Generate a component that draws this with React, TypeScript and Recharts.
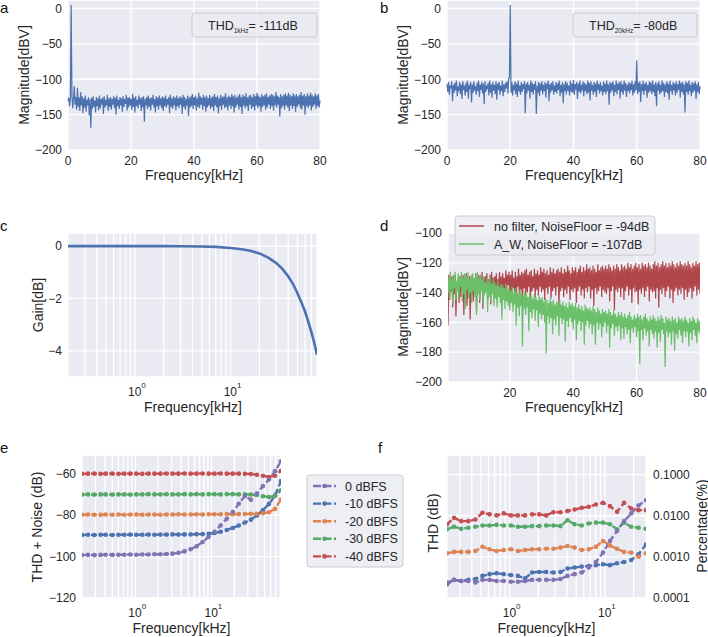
import { CartesianGrid, Line, LineChart, XAxis, YAxis } from 'recharts'

const FONT = '"Liberation Sans", Arial, sans-serif'
const INK = '#262626'
const PANEL_BG = '#EAEAF2'
const BLUE = '#4C72B0'

// FFT bin spacing of the measured spectra, kHz
const BIN_KHZ = 0.25

// (a) 1 kHz tone, dBV per bin from 0 to 80 kHz
const spec1k = [
  -131, -126, -138, -128, 5, -124, -141, -127, -110, -136, -125, -143, -112, -139, -126, -145, -118, -137, -124, -148,
  -127, -140, -123, -146, -129, -137, -125, -151, -128, -169, -126, -142, -124, -139, -130, -147, -125, -138, -127, -144,
  -123, -141, -128, -136, -126, -149, -124, -140, -129, -137, -122, -145, -127, -139, -125, -143, -128, -136, -124, -141,
  -126, -150, -123, -138, -129, -142, -125, -137, -127, -146, -124, -139, -128, -135, -122, -144, -126, -140, -125, -137,
  -128, -143, -121, -139, -126, -147, -124, -138, -129, -141, -123, -136, -127, -145, -125, -140, -124, -160, -128, -137,
  -125, -142, -123, -139, -127, -144, -126, -136, -122, -140, -128, -147, -124, -138, -126, -143, -123, -137, -127, -141,
  -124, -145, -126, -138, -123, -140, -128, -136, -125, -148, -122, -139, -127, -142, -124, -137, -126, -144, -123, -138,
  -127, -141, -124, -136, -126, -149, -122, -139, -125, -143, -128, -137, -123, -152, -126, -140, -124, -138, -121, -142,
  -125, -137, -123, -144, -127, -139, -119, -141, -124, -136, -126, -143, -122, -138, -125, -146, -123, -140, -127, -137,
  -122, -142, -126, -139, -124, -145, -121, -137, -125, -140, -123, -148, -127, -138, -122, -143, -125, -136, -124, -141,
  -120, -139, -126, -144, -123, -137, -125, -142, -121, -138, -124, -147, -122, -140, -126, -136, -123, -143, -121, -139,
  -125, -149, -122, -137, -124, -141, -120, -138, -126, -145, -123, -136, -122, -142, -125, -139, -121, -144, -124, -137,
  -119, -141, -123, -138, -125, -146, -121, -139, -124, -137, -122, -143, -120, -140, -125, -136, -123, -142, -121, -138,
  -122, -144, -124, -137, -118, -140, -123, -136, -125, -153, -121, -141, -124, -138, -122, -143, -120, -137, -123, -140,
  -119, -145, -122, -137, -124, -142, -120, -138, -123, -146, -121, -139, -124, -136, -122, -141, -118, -143, -123, -137,
  -121, -150, -124, -138, -120, -141, -123, -137, -119, -144, -122, -139, -124, -136, -120, -142, -123, -138, -121, -140,
  -130,
]

// (b) 20 kHz tone
const spec20k = [
  -107, -118, -104, -122, -109, -113, -103, -131, -108, -119, -105, -116, -102, -124, -110, -117, -104, -121, -107, -128,
  -103, -115, -109, -123, -105, -118, -102, -127, -108, -114, -104, -133, -107, -119, -103, -116, -110, -122, -105, -117,
  -102, -125, -108, -115, -104, -120, -106, -135, -103, -118, -109, -114, -105, -123, -102, -119, -107, -126, -104, -116,
  -108, -121, -103, -129, -106, -115, -104, -122, -109, -117, -102, -124, -107, -118, -105, -113, -103, -120, -99, -98,
  5, -119, -104, -123, -108, -116, -103, -121, -106, -125, -102, -117, -109, -122, -104, -118, -107, -114, -103, -148,
  -106, -120, -104, -116, -108, -127, -102, -118, -105, -122, -107, -115, -103, -149, -109, -119, -104, -124, -106, -116,
  -103, -121, -108, -117, -104, -126, -106, -114, -102, -131, -107, -119, -105, -116, -103, -122, -109, -118, -104, -120,
  -106, -115, -102, -124, -108, -119, -104, -134, -107, -117, -103, -121, -105, -116, -109, -123, -102, -118, -106, -119,
  -101, -122, -107, -115, -104, -128, -106, -118, -102, -120, -108, -116, -103, -124, -105, -117, -107, -121, -102, -119,
  -105, -130, -103, -116, -108, -122, -104, -118, -106, -125, -102, -115, -107, -120, -104, -117, -109, -123, -103, -118,
  -106, -121, -102, -117, -107, -136, -104, -119, -105, -116, -103, -124, -108, -118, -102, -121, -106, -115, -104, -127,
  -103, -118, -107, -122, -102, -116, -105, -125, -108, -117, -104, -120, -106, -115, -102, -123, -107, -119, -103, -116,
  -73, -121, -105, -118, -103, -132, -107, -117, -102, -122, -106, -116, -104, -126, -108, -119, -103, -117, -105, -121,
  -102, -118, -107, -124, -104, -138, -106, -116, -103, -121, -108, -119, -102, -117, -105, -125, -107, -118, -103, -120,
  -106, -129, -102, -117, -108, -122, -104, -116, -106, -123, -103, -119, -107, -115, -102, -126, -105, -118, -104, -121,
  -107, -147, -103, -118, -105, -122, -102, -117, -108, -124, -104, -119, -106, -116, -103, -128, -107, -118, -104, -121,
  -110,
]

// (d) idle noise, bins from 0.25 to 80 kHz
const noFilter = [
  -131, -162, -128, -145, -133, -139, -129, -150, -132, -141, -128, -156, -134, -138, -130, -147, -129, -143, -133, -137,
  -128, -155, -131, -140, -127, -149, -134, -136, -129, -158, -131, -142, -128, -146, -133, -139, -127, -152, -130, -137,
  -128, -147, -132, -138, -126, -151, -130, -141, -129, -137, -127, -145, -131, -139, -128, -148, -126, -136, -130, -143,
  -129, -138, -127, -145, -131, -136, -126, -141, -129, -148, -127, -137, -130, -143, -125, -139, -128, -135, -126, -142,
  -128, -143, -125, -137, -130, -140, -126, -146, -129, -136, -124, -141, -128, -138, -126, -149, -127, -137, -125, -142,
  -124, -140, -128, -136, -126, -148, -125, -139, -129, -137, -124, -143, -127, -138, -125, -142, -128, -136, -123, -140,
  -126, -138, -124, -145, -127, -137, -125, -141, -128, -136, -123, -144, -126, -139, -124, -137, -127, -142, -125, -136,
  -124, -150, -126, -139, -123, -137, -127, -143, -124, -138, -126, -141, -122, -136, -125, -145, -127, -138, -123, -140,
  -125, -137, -123, -147, -126, -139, -124, -136, -122, -142, -126, -138, -123, -144, -125, -137, -121, -140, -124, -136,
  -123, -144, -125, -138, -122, -149, -124, -137, -126, -141, -121, -139, -125, -136, -123, -143, -122, -138, -124, -140,
  -122, -141, -124, -137, -121, -146, -123, -139, -125, -136, -122, -152, -124, -138, -121, -140, -123, -137, -125, -143,
  -121, -137, -123, -145, -122, -139, -124, -136, -120, -142, -123, -138, -121, -147, -124, -137, -122, -140, -120, -139,
  -123, -148, -121, -138, -124, -141, -120, -137, -122, -143, -121, -139, -123, -136, -120, -146, -122, -138, -124, -140,
  -121, -139, -119, -144, -122, -137, -120, -150, -123, -138, -121, -141, -119, -137, -122, -143, -120, -139, -123, -136,
  -120, -144, -122, -138, -119, -147, -121, -139, -123, -137, -120, -142, -122, -138, -119, -141, -121, -137, -122, -145,
  -120, -138, -122, -143, -119, -140, -121, -137, -123, -144, -120, -139, -122, -136, -119, -142, -121, -138, -120, -141,
]
const aWeighted = [
  -127, -140, -130, -144, -126, -138, -131, -148, -128, -137, -126, -145, -132, -139, -127, -143, -129, -136, -126, -146,
  -130, -141, -127, -151, -129, -138, -126, -144, -131, -140, -128, -147, -127, -139, -130, -143, -128, -155, -126, -141,
  -130, -145, -128, -139, -131, -148, -129, -142, -133, -140, -130, -153, -132, -143, -129, -146, -134, -141, -131, -149,
  -133, -144, -135, -150, -132, -143, -136, -147, -134, -158, -135, -145, -137, -151, -134, -146, -138, -149, -136, -152,
  -139, -147, -136, -153, -140, -148, -137, -162, -139, -150, -141, -156, -138, -149, -140, -176, -142, -151, -139, -155,
  -141, -150, -143, -166, -140, -153, -142, -157, -144, -151, -141, -159, -143, -152, -145, -163, -142, -154, -144, -158,
  -143, -155, -146, -160, -144, -181, -145, -156, -147, -161, -144, -157, -146, -168, -145, -158, -148, -162, -146, -156,
  -147, -169, -145, -157, -148, -161, -146, -158, -149, -173, -147, -159, -150, -163, -146, -157, -148, -160, -147, -165,
  -149, -158, -147, -172, -150, -161, -148, -159, -151, -166, -149, -160, -152, -175, -148, -162, -150, -159, -151, -164,
  -150, -161, -152, -168, -149, -162, -151, -175, -153, -160, -150, -165, -152, -161, -154, -170, -151, -163, -153, -160,
  -152, -167, -154, -162, -151, -177, -153, -164, -155, -161, -152, -169, -154, -163, -156, -166, -153, -162, -155, -172,
  -153, -164, -156, -171, -154, -163, -157, -168, -155, -165, -153, -174, -156, -164, -158, -167, -155, -163, -157, -170,
  -154, -166, -156, -188, -155, -165, -158, -172, -156, -164, -154, -169, -157, -166, -159, -176, -156, -165, -158, -168,
  -155, -171, -157, -166, -159, -177, -156, -167, -158, -173, -155, -165, -157, -168, -160, -190, -156, -166, -158, -170,
  -157, -167, -159, -175, -156, -166, -158, -179, -157, -168, -160, -171, -156, -165, -158, -169, -157, -174, -159, -166,
  -156, -170, -158, -166, -160, -176, -157, -167, -159, -172, -156, -165, -158, -169, -160, -174, -157, -166, -159, -168,
]
const noiseLabels = ['no filter, NoiseFloor = -94dB', 'A_W, NoiseFloor = -107dB']

// (c) filter response
const gainFreq = [0.2, 0.5, 1, 2, 3, 5, 7, 10, 13, 16, 20, 25, 30, 35, 40, 45, 50, 55, 60, 65, 70, 75, 80]
const gainDb = [0, 0, 0, 0, -0.005, -0.015, -0.03, -0.07, -0.12, -0.18, -0.28, -0.45, -0.65, -0.88, -1.15, -1.45, -1.8, -2.15, -2.5, -2.9, -3.3, -3.7, -4.15]

// (e) THD+N vs frequency
const eFreq = [0.2, 0.24, 0.29, 0.35, 0.41, 0.5, 0.6, 0.72, 0.86, 1.03, 1.24, 1.49, 1.78, 2.14, 2.57, 3.08, 3.7, 4.44, 5.32, 6.39, 7.67, 9.2, 11, 13.2, 15.9, 19.1, 22.9, 27.5, 33, 39.6, 47.5, 57, 68.4, 82]
const thdn0 = [-99.3, -99.2, -99.3, -99.2, -99.1, -99.2, -99.1, -99.1, -99.0, -99.1, -99.0, -99.0, -98.9, -98.9, -98.8, -98.6, -98.2, -97.5, -96.5, -95.0, -93.0, -90.5, -88.0, -85.0, -81.8, -78.5, -74.5, -70.8, -72.6, -69.6, -66.0, -62.8, -58.8, -54.0]
const thdn10 = [-89.6, -89.5, -89.6, -89.5, -89.5, -89.6, -89.5, -89.5, -89.4, -89.5, -89.5, -89.4, -89.5, -89.4, -89.4, -89.3, -89.4, -89.3, -89.3, -89.2, -89.2, -89.0, -88.6, -88.0, -87.2, -86.2, -85.0, -83.6, -82.2, -80.2, -77.6, -74.6, -70.6, -63.6]
const thdn20 = [-79.8, -79.7, -79.8, -79.8, -79.7, -79.8, -79.7, -79.8, -79.7, -79.7, -79.8, -79.7, -79.7, -79.8, -79.7, -79.7, -79.6, -79.7, -79.7, -79.6, -79.7, -79.6, -79.6, -79.6, -79.5, -79.6, -79.5, -79.5, -79.4, -79.4, -79.1, -78.6, -77.0, -72.5]
const thdn30 = [-70.1, -70.0, -70.1, -70.0, -70.0, -70.1, -70.0, -70.0, -70.1, -70.0, -70.0, -69.9, -70.0, -70.0, -69.9, -70.0, -70.0, -69.9, -70.0, -69.9, -70.0, -69.9, -69.9, -70.0, -69.9, -69.9, -70.0, -70.0, -70.1, -70.3, -70.9, -71.3, -70.8, -68.0]
const thdn40 = [-60.1, -60.0, -60.0, -60.1, -60.0, -60.0, -60.1, -60.0, -60.0, -60.0, -60.1, -60.0, -60.0, -60.0, -59.9, -60.0, -60.0, -59.9, -60.0, -60.0, -59.9, -60.0, -60.0, -59.9, -60.0, -60.0, -60.0, -60.1, -60.2, -60.5, -61.0, -61.6, -61.0, -58.6]

// (f) THD in percent
const fFreq = [0.22, 0.261, 0.31, 0.368, 0.437, 0.518, 0.615, 0.73, 0.867, 1.03, 1.22, 1.45, 1.72, 2.04, 2.42, 2.88, 3.41, 4.05, 4.81, 5.71, 6.78, 8.04, 9.55, 11.3, 13.4, 15.9, 18.9, 22.5, 27]
const thd0 = [0.000238, 0.000276, 0.00026, 0.00026, 0.000238, 0.000276, 0.000276, 0.00026, 0.00026, 0.000249, 0.000249, 0.00026, 0.000276, 0.000276, 0.000276, 0.000276, 0.00029, 0.000345, 0.00038, 0.000416, 0.00055, 0.00075, 0.00127, 0.00243, 0.00425, 0.0074, 0.0114, 0.0178, 0.0239]
const thd10 = [0.000217, 0.000276, 0.00026, 0.000276, 0.00029, 0.000345, 0.00038, 0.0004, 0.00038, 0.00036, 0.000345, 0.0003, 0.000416, 0.00043, 0.00043, 0.000416, 0.00043, 0.00052, 0.00055, 0.00058, 0.0006, 0.00063, 0.00066, 0.00063, 0.0007, 0.00075, 0.00084, 0.00116, 0.002]
const thd20 = [0.00122, 0.00132, 0.00132, 0.00132, 0.00139, 0.00177, 0.00153, 0.00139, 0.00147, 0.00153, 0.00139, 0.00147, 0.00153, 0.00153, 0.00158, 0.00158, 0.00168, 0.00184, 0.00168, 0.00147, 0.00153, 0.00177, 0.00243, 0.0019, 0.00158, 0.00132, 0.00127, 0.00101, 0.00122]
const thd30 = [0.0047, 0.0054, 0.0048, 0.0051, 0.0054, 0.0058, 0.0058, 0.006, 0.0058, 0.0058, 0.0054, 0.0054, 0.0056, 0.0056, 0.0058, 0.0058, 0.0056, 0.0078, 0.0062, 0.0058, 0.0065, 0.0068, 0.0068, 0.0062, 0.0047, 0.0068, 0.0054, 0.0051, 0.0048]
const thd40 = [0.0062, 0.0089, 0.0074, 0.0074, 0.0081, 0.0118, 0.0108, 0.0102, 0.0114, 0.0102, 0.0102, 0.0102, 0.0108, 0.0108, 0.0102, 0.0122, 0.0122, 0.013, 0.0142, 0.0156, 0.0165, 0.0188, 0.0206, 0.0171, 0.0125, 0.0206, 0.015, 0.0137, 0.0137]

const levelNames = ['0 dBFS', '-10 dBFS', '-20 dBFS', '-30 dBFS', '-40 dBFS']
const levelKeys = ['l0', 'l10', 'l20', 'l30', 'l40']
const levelColors = ['#8172B3', '#4C72B0', '#DD8452', '#55A868', '#C44E52']

const dataA = spec1k.map((v, i) => ({ f: i * BIN_KHZ, v }))
const dataB = spec20k.map((v, i) => ({ f: i * BIN_KHZ, v }))
const dataD = noFilter.map((v, i) => ({ f: (i + 1) * BIN_KHZ, raw: v, aw: aWeighted[i] }))
const dataC = gainFreq.map((f, i) => ({ f, g: gainDb[i] }))
const dataE = eFreq.map((f, i) => ({ f, l0: thdn0[i], l10: thdn10[i], l20: thdn20[i], l30: thdn30[i], l40: thdn40[i] }))
const dataF = fFreq.map((f, i) => ({ f, l0: thd0[i], l10: thd10[i], l20: thd20[i], l30: thd30[i], l40: thd40[i] }))

const logTicksWide = [0.2, 0.3, 0.4, 0.5, 0.6, 0.7, 0.8, 0.9, 1, 2, 3, 4, 5, 6, 7, 8, 9, 10, 20, 30, 40, 50, 60, 70, 80]
const logTicksF = [0.3, 0.4, 0.5, 0.6, 0.7, 0.8, 0.9, 1, 2, 3, 4, 5, 6, 7, 8, 9, 10, 20]

const minus = (v: number) => (v < 0 ? '\u2212' + Math.abs(v) : String(v))
const tickStyle = { fontSize: 12, fill: INK, fontFamily: FONT }
const axisBase = { tickLine: false, axisLine: false, tickSize: 0, tickMargin: 6, interval: 0 as const }

function LogTick(props: any) {
  const { x, y, payload } = props
  const e = Math.log10(payload.value)
  if (Math.abs(e - Math.round(e)) > 1e-6) return <g />
  return (
    <text x={x + 2} y={y + 13} textAnchor="middle" fontSize={12} fill={INK} fontFamily={FONT}>
      10<tspan dy={-8.5} fontSize={8}>{Math.round(e)}</tspan>
    </text>
  )
}

type Box = { x: number; y: number; w: number; h: number }

function Frame({ box, data, right, children }: { box: Box; data: any[]; right?: boolean; children: any }) {
  const leftW = right ? 0 : 50
  const rightW = right ? 60 : 0
  return (
    <div style={{ position: 'absolute', left: box.x - 10 - leftW, top: box.y - 10 }}>
      <LineChart
        width={box.w + leftW + rightW + 20}
        height={box.h + 50}
        data={data}
        margin={{ top: 10, right: 10, bottom: 10, left: 10 }}
      >
        {children}
      </LineChart>
    </div>
  )
}

function grid() {
  return <CartesianGrid fill={PANEL_BG} fillOpacity={1} stroke="#ffffff" strokeWidth={1.3} />
}

function RotLabel({ x, y, text }: { x: number; y: number; text: string }) {
  return (
    <text transform={`translate(${x},${y}) rotate(-90)`} textAnchor="middle" fontSize={14} fill={INK} fontFamily={FONT}>
      {text}
    </text>
  )
}

function Overlay() {
  const t = { fontFamily: FONT, fill: INK }
  const letter = { fontFamily: FONT, fill: '#111', fontSize: 15 }
  return (
    <svg width={708} height={637} style={{ position: 'absolute', left: 0, top: 0, pointerEvents: 'none' }}>
      <text x={0} y={12.5} {...letter}>a</text>
      <text x={380} y={12.5} {...letter}>b</text>
      <text x={0} y={231} {...letter}>c</text>
      <text x={380} y={231} {...letter}>d</text>
      <text x={0} y={453} {...letter}>e</text>
      <text x={378} y={453} {...letter}>f</text>

      <RotLabel x={28.5} y={75} text="Magnitude[dBV]" />
      <RotLabel x={407.5} y={75} text="Magnitude[dBV]" />
      <RotLabel x={42.5} y={305} text="Gain[dB]" />
      <RotLabel x={407.5} y={307} text="Magnitude[dBV]" />
      <RotLabel x={41.8} y={527} text="THD + Noise (dB)" />
      <RotLabel x={437.5} y={523} text="THD (dB)" />
      <RotLabel x={706.5} y={526} text="Percentage(%)" />

      <text x={194} y={179.5} textAnchor="middle" fontSize={14} {...t}>Frequency[kHz]</text>
      <text x={574} y={179.5} textAnchor="middle" fontSize={14} {...t}>Frequency[kHz]</text>
      <text x={193} y={412} textAnchor="middle" fontSize={14} {...t}>Frequency[kHz]</text>
      <text x={574} y={412} textAnchor="middle" fontSize={14} {...t}>Frequency[kHz]</text>
      <text x={181.5} y={633} textAnchor="middle" fontSize={14} {...t}>Frequency[kHz]</text>
      <text x={546.5} y={633} textAnchor="middle" fontSize={14} {...t}>Frequency[kHz]</text>

      <rect x={192} y={13} width={125} height={24} rx={3} fill={PANEL_BG} fillOpacity={0.8} stroke="#cccccc" />
      <text x={208} y={29.5} fontSize={12.5} {...t}>
        THD<tspan fontSize={6.5} dy={3.5}>1kHz</tspan>
        <tspan dy={-3.5}>= -111dB</tspan>
      </text>
      <rect x={573} y={13} width={124} height={24} rx={3} fill={PANEL_BG} fillOpacity={0.8} stroke="#cccccc" />
      <text x={589} y={29.5} fontSize={12.5} {...t}>
        THD<tspan fontSize={6.5} dy={3.5}>20kHz</tspan>
        <tspan dy={-3.5}>= -80dB</tspan>
      </text>

      <rect x={455} y={216} width={200} height={39} rx={3} fill={PANEL_BG} fillOpacity={0.8} stroke="#cccccc" />
      <line x1={459} x2={484} y1={226} y2={226} stroke="#B4474B" strokeWidth={1.5} />
      <line x1={459} x2={484} y1={244} y2={244} stroke="#6ABF69" strokeWidth={1.5} />
      <text x={494} y={230.5} fontSize={12.5} {...t}>{noiseLabels[0]}</text>
      <text x={494} y={248.5} fontSize={12.5} {...t}>{noiseLabels[1]}</text>

      <rect x={307} y={475} width={96} height={92} rx={3} fill="#EEEEF5" stroke="#cccccc" />
      {levelNames.map((name, i) => {
        const cy = 486 + i * 17.6
        return (
          <g key={name}>
            <line x1={313} x2={336} y1={cy} y2={cy} stroke={levelColors[i]} strokeWidth={2.4} strokeDasharray="8 2.5" />
            <circle cx={324.5} cy={cy} r={2.3} fill={levelColors[i]} />
            <text x={345} y={cy + 4.5} fontSize={12.5} {...t}>{name}</text>
          </g>
        )
      })}
    </svg>
  )
}

function levelLines() {
  const order = [1, 2, 3, 4, 0]
  return order.map((i) => (
    <Line
      key={levelKeys[i]}
      dataKey={levelKeys[i]}
      stroke={levelColors[i]}
      strokeWidth={2.4}
      strokeDasharray="6 3"
      dot={{ r: 2.3, fill: levelColors[i], stroke: 'none' }}
      isAnimationActive={false}
    />
  ))
}

export default function App() {
  return (
    <div style={{ position: 'absolute', left: 0, top: 0, width: 708, height: 637, background: '#fff', overflow: 'hidden' }}>
      <Frame box={{ x: 68, y: 0, w: 252, h: 150 }} data={dataA}>
        {grid()}
        <XAxis type="number" dataKey="f" domain={[0, 80]} ticks={[0, 20, 40, 60, 80]} tick={tickStyle} {...axisBase} />
        <YAxis domain={[-200, 12]} ticks={[0, -50, -100, -150, -200]} width={50} tickFormatter={minus} tick={tickStyle} {...axisBase} />
        <Line dataKey="v" stroke={BLUE} strokeWidth={1.2} dot={false} isAnimationActive={false} />
      </Frame>

      <Frame box={{ x: 447, y: 0, w: 253, h: 150 }} data={dataB}>
        {grid()}
        <XAxis type="number" dataKey="f" domain={[0, 80]} ticks={[0, 20, 40, 60, 80]} tick={tickStyle} {...axisBase} />
        <YAxis domain={[-200, 12]} ticks={[0, -50, -100, -150, -200]} width={50} tickFormatter={minus} tick={tickStyle} {...axisBase} />
        <Line dataKey="v" stroke={BLUE} strokeWidth={1.2} dot={false} isAnimationActive={false} />
      </Frame>

      <Frame box={{ x: 68, y: 233, w: 249, h: 144 }} data={dataC}>
        {grid()}
        <XAxis type="number" dataKey="f" scale="log" domain={[0.2, 80]} ticks={logTicksWide} tick={<LogTick />} allowDataOverflow {...axisBase} />
        <YAxis domain={[-5, 0.5]} ticks={[0, -2, -4]} width={50} tickFormatter={minus} tick={tickStyle} {...axisBase} />
        <Line dataKey="g" stroke={BLUE} strokeWidth={2.6} dot={false} isAnimationActive={false} />
      </Frame>

      <Frame box={{ x: 448, y: 233, w: 252, h: 149 }} data={dataD}>
        {grid()}
        <XAxis type="number" dataKey="f" domain={[0.5, 80]} ticks={[20, 40, 60, 80]} tick={tickStyle} allowDataOverflow {...axisBase} />
        <YAxis domain={[-200, -100]} ticks={[-100, -120, -140, -160, -180, -200]} width={50} tickFormatter={minus} tick={tickStyle} {...axisBase} />
        <Line dataKey="raw" stroke="#B0464A" strokeWidth={1.2} dot={false} isAnimationActive={false} />
        <Line dataKey="aw" stroke="#6ABF69" strokeWidth={1.2} dot={false} isAnimationActive={false} />
      </Frame>

      <Frame box={{ x: 82, y: 455, w: 199, h: 143 }} data={dataE}>
        {grid()}
        <XAxis type="number" dataKey="f" scale="log" domain={[0.2, 82]} ticks={logTicksWide} tick={<LogTick />} allowDataOverflow {...axisBase} />
        <YAxis domain={[-120, -51]} ticks={[-60, -80, -100, -120]} width={50} tickFormatter={minus} tick={tickStyle} {...axisBase} />
        {levelLines()}
      </Frame>

      <Frame box={{ x: 447, y: 455, w: 199, h: 143 }} data={dataF} right>
        {grid()}
        <XAxis type="number" dataKey="f" scale="log" domain={[0.22, 27]} ticks={logTicksF} tick={<LogTick />} allowDataOverflow {...axisBase} />
        <YAxis
          orientation="right"
          scale="log"
          domain={[0.0001, 0.3]}
          ticks={[0.0001, 0.001, 0.01, 0.1]}
          width={60}
          tickFormatter={(v: number) => v.toFixed(4)}
          tick={tickStyle}
          allowDataOverflow
          {...axisBase}
          tickMargin={7}
        />
        {levelLines()}
      </Frame>

      <Overlay />
    </div>
  )
}
